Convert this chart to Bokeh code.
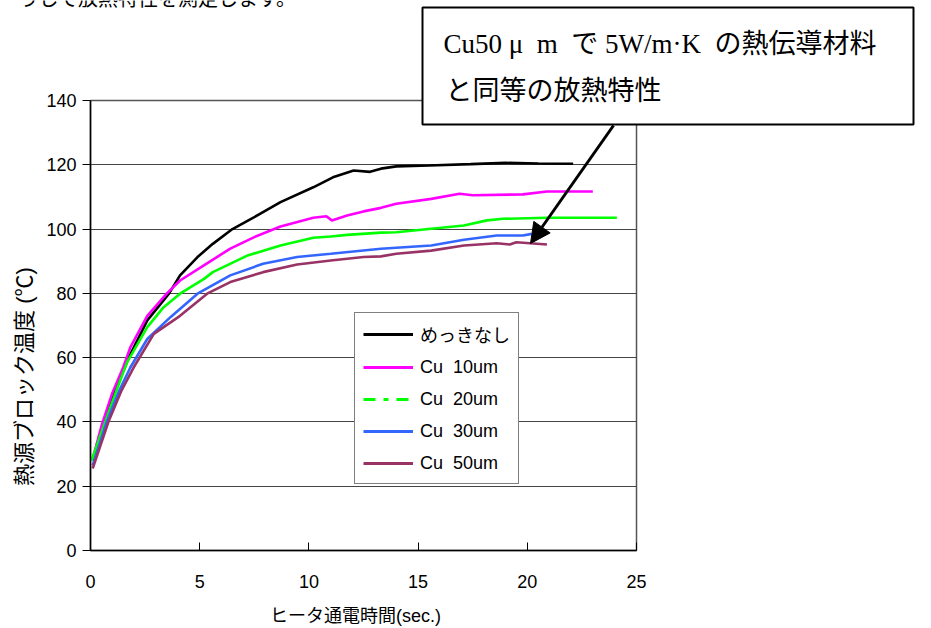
import numpy as np
from bokeh.plotting import figure
from bokeh.layouts import column
from bokeh.models import (Range1d, FixedTicker, Label, Legend, LegendItem, Arrow,
                          NormalHead, BoxAnnotation)
from bokeh.embed import file_html
from bokeh.resources import INLINE

# ---- data ----
black_t = [0.1, 0.6, 1.2, 1.75, 2.6, 3.6, 4.1, 4.9, 5.6, 6.5, 7.5, 8.7, 10.2, 11.1, 12.05, 12.8, 13.3, 14.0, 15.5, 17.4, 19.0, 20.5, 22.1]
black_T = [28, 40, 51, 60, 71.6, 80, 85.6, 91.3, 95.4, 100, 103.7, 108.4, 113, 116.1, 118.2, 117.8, 118.8, 119.5, 119.8, 120.2, 120.6, 120.4, 120.3]

cu10_t = [0.1, 0.53, 1.0, 1.5, 1.83, 2.6, 3.5, 4.1, 5.3, 6.4, 7.5, 8.7, 10.2, 10.8, 11.05, 11.75, 12.5, 13.3, 14.0, 15.6, 16.9, 17.5, 19.8, 20.9, 23.0]
cu10_T = [28.5, 39.4, 49, 57, 63.3, 73, 80, 84, 89.2, 93.9, 97.5, 100.8, 103.5, 104.0, 102.7, 104.2, 105.5, 106.6, 107.9, 109.4, 111.0, 110.5, 110.8, 111.7, 111.7]

cu20_t = [0.05, 0.69, 1.2, 1.68, 2.6, 3.35, 4.1, 5.2, 5.6, 7.2, 8.7, 10.2, 11.0, 11.75, 13.3, 14.0, 15.6, 17.1, 18.15, 18.9, 20.9, 24.1]
cu20_T = [28, 40.4, 50, 58.6, 69.5, 75.7, 79.9, 84.5, 86.6, 91.8, 94.9, 97.3, 97.7, 98.2, 98.9, 99, 100.1, 101.1, 102.7, 103.2, 103.5, 103.5]

cu30_t = [0.1, 0.76, 1.3, 1.83, 2.6, 3.66, 4.9, 6.4, 7.9, 9.46, 11.0, 13.3, 14.0, 15.6, 17.1, 18.6, 19.8, 20.2]
cu30_T = [26.5, 40.4, 49.5, 57, 65.8, 72.6, 79.9, 85.6, 89.2, 91.3, 92.3, 93.9, 94.2, 94.9, 96.7, 98.0, 98, 98.5]

cu50_t = [0.1, 0.84, 1.4, 1.98, 2.9, 4.1, 5.34, 6.4, 7.9, 9.46, 11.0, 12.5, 13.3, 14.0, 15.6, 17.1, 18.6, 19.2, 19.5, 20.9]
cu50_T = [25.5, 40.4, 49.5, 57, 67.4, 73, 79.9, 83.5, 86.6, 89, 90.2, 91.3, 91.5, 92.3, 93.3, 94.9, 95.6, 95.2, 95.9, 95.2]

series_names = ["めっきなし", "Cu\u00a0 10um", "Cu\u00a0 20um", "Cu\u00a0 30um", "Cu\u00a0 50um"]
x_ticks = [0, 5, 10, 15, 20, 25]
y_ticks = [0, 20, 40, 60, 80, 100, 120, 140]

x_title = "ヒータ通電時間(sec.)"
y_title = "熱源ブロック温度 (℃)"
note_line1 = "Cu50\u00a0μ\u00a0\u00a0m\u00a0\u00a0で 5W/m·K\u00a0\u00a0の熱伝導材料"
note_line2 = "と同等の放熱特性"
top_text = "うして放熱特性を測定します。"

colors = ["#000000", "#FF00FF", "#00FF00", "#3366FF", "#993366"]

SANS = "Liberation Sans, Noto Sans CJK JP"
SERIF = "Liberation Serif, Noto Sans CJK JP"

W, H = 931, 628

p = figure(width=W, height=H, output_backend="svg", toolbar_location=None,
           x_range=Range1d(0, 25), y_range=Range1d(0, 140),
           min_border_left=90, min_border_right=295, min_border_top=100,
           min_border_bottom=78)
p.frame_align = False
p.background_fill_color = "white"
p.border_fill_color = "white"
p.outline_line_color = "#555555"
p.outline_line_width = 1.5

p.xgrid.visible = False
p.ygrid.ticker = FixedTicker(ticks=y_ticks)
p.ygrid.grid_line_color = "#444444"
p.ygrid.grid_line_width = 1.2

p.xaxis.ticker = FixedTicker(ticks=x_ticks)
p.yaxis.ticker = FixedTicker(ticks=y_ticks)
for ax in (p.xaxis[0], p.yaxis[0]):
    ax.axis_line_color = "black"
    ax.axis_line_width = 1.5
    ax.major_tick_line_color = "black"
    ax.minor_tick_line_color = None
    ax.major_label_text_font = SANS
    ax.major_label_text_font_size = "18px"
    ax.major_label_text_color = "black"
p.xaxis.major_tick_in = 8
p.xaxis.major_tick_out = 0
p.xaxis.major_label_standoff = 24
p.yaxis.major_tick_in = 0
p.yaxis.major_tick_out = 8
p.yaxis.major_label_standoff = 6

data = [(black_t, black_T), (cu10_t, cu10_T), (cu20_t, cu20_T), (cu30_t, cu30_T), (cu50_t, cu50_T)]
for (t, T), c in zip(data, colors):
    p.line(t, T, line_color=c, line_width=2.6)

# legend-only glyphs (green shown dash-dot in legend), placed off-range
legend_items = []
for name, c in zip(series_names, colors):
    dash = "12 8 5 8" if "20um" in name else "solid"
    r = p.line([-50, -40], [-50, -40], line_color=c, line_width=3, line_dash=dash)
    legend_items.append(LegendItem(label=name, renderers=[r]))

legend = Legend(items=legend_items, location=(264, 66),
                glyph_width=50, glyph_height=24, label_height=24,
                spacing=8, padding=8, margin=0, label_standoff=7,
                label_text_font=SANS, label_text_font_size="18px",
                label_text_color="black",
                border_line_color="black", border_line_width=1.2,
                background_fill_color="white", background_fill_alpha=1)
p.add_layout(legend, "center")

p.add_layout(Arrow(end=NormalHead(size=20, fill_color="black", line_color="black"),
                   x_start=(613 - 90) / 21.84, y_start=(550 - 125) / 3.2143,
                   x_end=(530 - 90) / 21.84, y_end=(550 - 243) / 3.2143,
                   line_width=3, line_color="black"))

# transparent overlay (pixel coordinates, y down) for titles, call-out box and page text
o = figure(width=W, height=H, output_backend="svg", toolbar_location=None,
           x_range=Range1d(0, W), y_range=Range1d(H, 0),
           x_axis_type=None, y_axis_type=None, min_border=0)
o.frame_align = False
o.grid.visible = False
o.outline_line_color = None
o.background_fill_alpha = 0
o.border_fill_alpha = 0
o.margin = (-H, 0, 0, 0)

# axis titles
o.add_layout(Label(x=355, y=615, text=x_title, text_font=SANS, text_font_size="18px",
                   text_color="black", text_align="center", text_baseline="middle"))
o.add_layout(Label(x=24, y=376, text=y_title, text_font=SANS, text_font_size="22px",
                   text_color="black", text_align="center", text_baseline="middle",
                   angle=np.pi / 2))

# call-out box
o.add_layout(BoxAnnotation(left=422, right=913, top=7, bottom=124,
                           fill_color="white", fill_alpha=1, line_color="black",
                           line_alpha=1, line_width=2))
o.add_layout(Label(x=443, y=43, text=note_line1, text_color="black",
                   text_font=SERIF, text_font_size="27px", text_align="left",
                   text_baseline="middle"))
o.add_layout(Label(x=445, y=90, text=note_line2, text_color="black",
                   text_font=SERIF, text_font_size="27px", text_align="left",
                   text_baseline="middle"))
# partially visible page text at the very top
o.add_layout(Label(x=18, y=-2, text=top_text, text_color="black",
                   text_font=SERIF, text_font_size="20px", text_align="left",
                   text_baseline="middle"))

layout = column(p, o, spacing=0)
open("out.html", "w").write(file_html(layout, INLINE))
